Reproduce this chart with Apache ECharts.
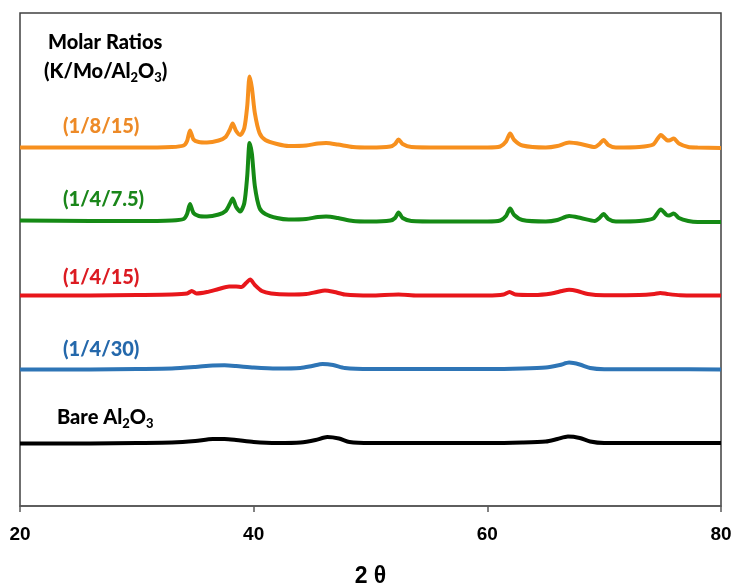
<!DOCTYPE html>
<html>
<head>
<meta charset="utf-8">
<title>XRD</title>
<script src="https://cdn.jsdelivr.net/npm/echarts@6/dist/echarts.min.js"></script>
<style>
  html, body { margin: 0; padding: 0; background: #fff; }
  #main { width: 732px; height: 585px; }
</style>
</head>
<body>
<div id="main"></div>
<script>
// x tick labels
var xTicks = [20, 40, 60, 80];

// patterns: [2theta, intensity with vertical offset]
var bare = [[20,62.5],[26,62.5],[30,63],[33,63.5],[35,65],[36.5,67],[37.5,67],[38.5,66],[40,64],[42,63],[44,63.5],[45.3,66],[46.3,69],[47.3,67.5],[48.2,64],[50,63],[55,63],[60,63],[63,63.5],[65,64.5],[66,67],[66.9,69.4],[67.9,68],[68.8,64.5],[70,63],[74,63],[80,63]];
var ratio30 = [[20,136.5],[26,136.5],[30,137],[33,137.5],[35,139],[36.5,140.5],[37.5,140.7],[38.5,140],[40,138.5],[42,137.5],[44,138],[45,140],[45.9,142],[46.8,141],[47.8,138],[50,137],[55,137],[60,137],[63,137.5],[65,138.5],[66.2,141],[67,143.4],[67.9,141.5],[68.8,138],[70,136.8],[75,136.8],[80,136.5]];
var ratio15 = [[20,210.5],[26,210.5],[30,211],[33,211.5],[34.3,212.5],[34.7,215],[35.1,212.5],[36,214],[37,217],[37.9,219.5],[38.5,219.5],[38.95,219],[39.35,223],[39.7,226.5],[40.1,221],[40.7,215],[41.5,212.5],[43,211.5],[44.5,212],[45.4,214],[46.1,215.5],[46.9,214],[47.8,211.5],[50,210.5],[52.4,211.5],[54,210.5],[60,210.5],[61.4,211.5],[61.9,214],[62.4,211.5],[64,211],[65.5,212.5],[66.4,215],[67,216.2],[67.7,215],[68.6,212],[70,210.8],[73,211],[74.3,212],[74.8,213],[75.4,212],[76.5,210.8],[80,210.5]];
var ratio75 = [[20,285.5],[26,285],[30,285],[33,285.5],[34,287],[34.3,292],[34.55,302],[34.85,293],[35.3,290],[36,289.5],[37,291.5],[37.6,295],[37.95,302],[38.2,307.5],[38.5,299],[38.85,294.5],[39.2,303],[39.45,330],[39.65,363],[39.85,352],[40.1,320],[40.5,298],[41,292],[42,288],[43,286.5],[44.5,287],[45.5,289],[46.2,289.5],[47.2,288],[48.5,285],[50,284.5],[51.7,285.5],[52.1,288],[52.4,293.5],[52.75,288],[53.5,285],[56,284.5],[60,284.5],[61.1,285.5],[61.6,290],[61.95,297.5],[62.3,291],[63,286],[65,284.5],[66,286],[67,290],[68,288],[69.2,285],[69.6,288],[69.95,292],[70.35,287],[71,284.5],[73,285],[74.2,287.5],[74.85,296.5],[75.35,291],[75.55,290.5],[75.95,292.5],[76.4,288],[77.2,285],[78,284],[80,284]];
var ratio815 = [[20,358.5],[26,358.5],[30,358.5],[33,359],[34,360.5],[34.3,365],[34.55,375.5],[34.85,366.5],[35.3,364],[36,363.5],[37,365.5],[37.6,369],[37.95,376],[38.2,382.5],[38.5,375],[38.85,371],[39.2,378],[39.45,400],[39.65,429.5],[39.85,418],[40.1,393],[40.5,373],[41,366],[42,362],[43,360],[44.5,360.5],[45.5,362.5],[46.2,363],[47.2,361.5],[48.5,359],[50,358.5],[51.7,359.5],[52.1,362],[52.4,366.5],[52.75,362],[53.5,359],[56,358.5],[60,358.5],[61.1,359.5],[61.6,364.5],[61.95,372.5],[62.3,366],[63,360.5],[65,358.5],[66,360],[67,363.5],[68,362],[69.2,359],[69.6,362],[69.95,366],[70.35,361],[71,358.5],[73,359],[74.2,361.5],[74.85,371],[75.35,366],[75.55,365.5],[75.95,367.5],[76.4,362.5],[77.2,359],[78,358.5],[80,358]];

var seriesNames = ['Bare Al2O3', '(1/4/30)', '(1/4/15)', '(1/4/7.5)', '(1/8/15)'];
var seriesData = [bare, ratio30, ratio15, ratio75, ratio815];
var seriesColors = ['#000000', '#2e75b6', '#e8161b', '#158a15', '#f7901e'];

var chartDom = document.getElementById('main');
var myChart = echarts.init(chartDom);

var series = [];
for (var i = 0; i < seriesData.length; i++) {
  series.push({
    name: seriesNames[i],
    type: 'line',
    data: seriesData[i],
    showSymbol: false,
    smooth: 0.25,
    lineStyle: { color: seriesColors[i], width: 4 },
    itemStyle: { color: seriesColors[i] },
    silent: true
  });
}

var labelFont = 'Lato';
function label(x, y, text, color) {
  return {
    type: 'text',
    x: x,
    y: y,
    style: {
      text: text,
      fill: color,
      fontFamily: labelFont,
      fontWeight: 900,
      fontSize: 20,
      verticalAlign: 'middle',
      rich: {
        m: { fontFamily: labelFont, fontWeight: 900, fontSize: 20, lineHeight: 24, fill: color },
        s: { fontFamily: labelFont, fontWeight: 900, fontSize: 13, lineHeight: 13, verticalAlign: 'bottom', fill: color }
      }
    }
  };
}

var option = {
  animation: false,
  grid: {
    left: 20, right: 11, top: 13, bottom: 79,
    outerBoundsMode: 'none',
    containLabel: false,
    show: true,
    borderColor: '#404040',
    borderWidth: 1.5
  },
  xAxis: {
    type: 'value',
    min: xTicks[0],
    max: xTicks[xTicks.length - 1],
    interval: 20,
    name: '2 θ',
    nameLocation: 'middle',
    nameGap: 59,
    nameTextStyle: { color: '#000', fontFamily: 'Arial', fontWeight: 'bold', fontSize: 23 },
    axisLine: { lineStyle: { color: '#595959', width: 1.5 } },
    axisTick: { inside: false, length: 6, lineStyle: { color: '#595959', width: 1.5 } },
    axisLabel: { margin: 19, color: '#000', fontFamily: 'Arial', fontWeight: 'bold', fontSize: 19 },
    splitLine: { show: false }
  },
  yAxis: {
    type: 'value',
    min: 0,
    max: 493,
    show: false
  },
  graphic: [
    label(48, 43, 'Molar Ratios', '#000'),
    label(44, 72, '{m|(K/Mo/Al}{s|2}{m|O}{s|3}{m|)}', '#000'),
    label(63, 127, '(1/8/15)', '#ed8a27'),
    label(63, 200, '(1/4/7.5)', '#1a861a'),
    label(63, 278, '(1/4/15)', '#dc1b22'),
    label(63, 350, '(1/4/30)', '#2468ab'),
    label(57, 418, '{m|Bare Al}{s|2}{m|O}{s|3}', '#000')
  ],
  series: series
};
myChart.setOption(option);
</script>
</body>
</html>
